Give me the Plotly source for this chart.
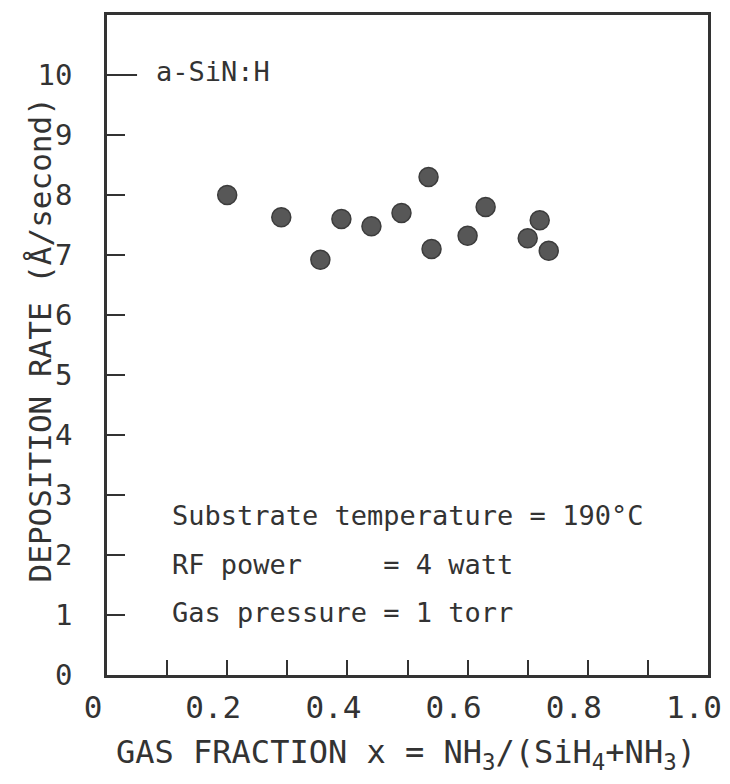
import plotly.graph_objects as go

# Data
gas_fraction = [0.20, 0.29, 0.355, 0.39, 0.44, 0.49, 0.535, 0.54, 0.60, 0.63, 0.70, 0.72, 0.735]
deposition_rate = [8.0, 7.63, 6.92, 7.6, 7.48, 7.7, 8.3, 7.1, 7.32, 7.8, 7.28, 7.58, 7.07]

x_tick_vals = [0, 0.1, 0.2, 0.3, 0.4, 0.5, 0.6, 0.7, 0.8, 0.9, 1.0]
x_tick_text = ["0", "", "0.2", "", "0.4", "", "0.6", "", "0.8", "", "1.0"]
y_tick_vals = [0, 1, 2, 3, 4, 5, 6, 7, 8, 9, 10]
y_tick_text = ["0", "1", "2", "3", "4", "5", "6", "7", "8", "9", "10"]

FONT = "DejaVu Sans Mono"
INK = "#333333"
NB = "\u00a0"

fig = go.Figure()
fig.add_trace(go.Scatter(
    x=gas_fraction, y=deposition_rate, mode="markers",
    marker=dict(size=19, color="#575757", line=dict(color="#3c3c3c", width=1.5)),
    showlegend=False,
))

# page body has an 8px default margin, so the figure is sized to fit inside it
fig.update_layout(
    width=714, height=768,
    margin=dict(l=99, r=14, t=7, b=101),
    paper_bgcolor="white", plot_bgcolor="white",
    font=dict(family=FONT, color=INK),
    xaxis=dict(
        range=[0, 1.0], tickmode="array", tickvals=x_tick_vals, ticktext=x_tick_text,
        ticks="inside", ticklen=15, tickwidth=2, tickcolor=INK,
        showline=True, linewidth=2.5, linecolor=INK, mirror=True,
        showgrid=False, zeroline=False, automargin=False,
        tickfont=dict(size=31, family=FONT, color=INK), ticklabelstandoff=3,
        ticklabeloverflow="allow", ticklabelshift=-14,
    ),
    yaxis=dict(
        range=[0, 11], tickmode="array", tickvals=y_tick_vals, ticktext=y_tick_text,
        ticks="inside", ticklen=18, tickwidth=2, tickcolor=INK,
        showline=True, linewidth=2.5, linecolor=INK, mirror=True,
        showgrid=False, zeroline=False, automargin=False,
        tickfont=dict(size=29, family=FONT, color=INK), ticklabelstandoff=26,
    ),
)

# longer tick at the top label
fig.add_shape(type="line", xref="paper", yref="y", x0=0, x1=0.05,
              y0=max(y_tick_vals), y1=max(y_tick_vals),
              line=dict(color=INK, width=2))

fig.add_annotation(text="DEPOSITION RATE (Å/second)", textangle=-90,
                   xref="paper", yref="paper", x=-0.112, y=0.508,
                   xanchor="center", yanchor="middle", showarrow=False,
                   font=dict(size=31, family=FONT, color=INK))
fig.add_annotation(text="GAS FRACTION x = NH<sub>3</sub>/(SiH<sub>4</sub>+NH<sub>3</sub>)",
                   xref="paper", yref="paper", x=0.497, y=-0.12,
                   xanchor="center", yanchor="middle", showarrow=False,
                   font=dict(size=32, family=FONT, color=INK))
fig.add_annotation(text="a-SiN:H", xref="paper", yref="paper", x=0.078, y=0.915,
                   xanchor="left", yanchor="middle", showarrow=False,
                   font=dict(size=27, family=FONT, color=INK))

cond_lines = [
    "Substrate temperature = 190°C",
    "RF power" + NB * 5 + "= 4 watt",
    "Gas" + NB + "pressure = 1 torr",
]
cond_y = [0.242, 0.167, 0.095]
for t, yy in zip(cond_lines, cond_y):
    fig.add_annotation(text=t.replace(" ", NB), xref="paper", yref="paper", x=0.104, y=yy,
                       xanchor="left", yanchor="middle", showarrow=False,
                       font=dict(size=27, family=FONT, color=INK))

fig.write_html("out.html")
